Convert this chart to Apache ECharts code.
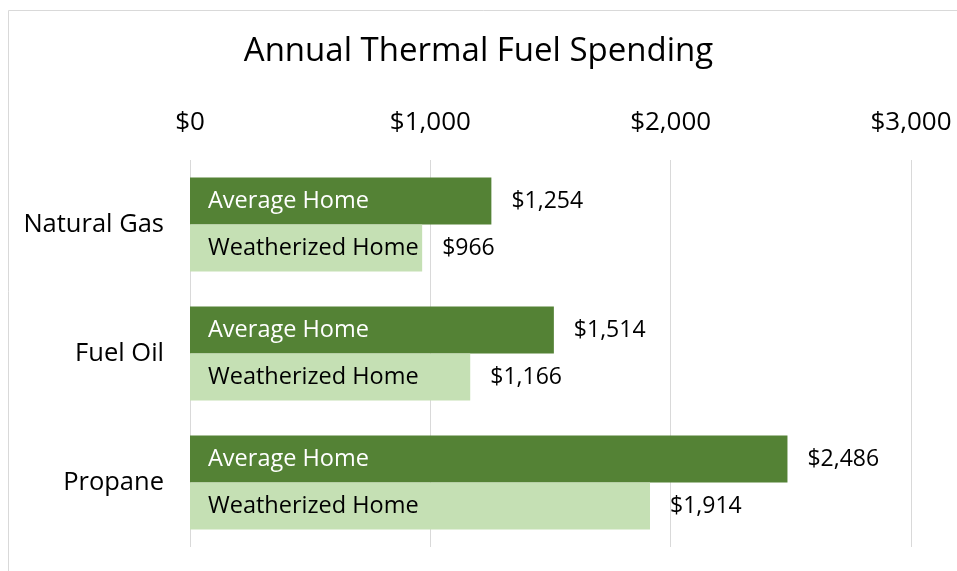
<!DOCTYPE html>
<html>
<head>
<meta charset="utf-8">
<script src="https://cdn.jsdelivr.net/npm/echarts@6/dist/echarts.min.js"></script>
<style>
  html, body { margin: 0; padding: 0; background: #fff; }
  #main { width: 957px; height: 571px; }
</style>
</head>
<body>
<div id="main"></div>
<script>
// data
var categories = ['Natural Gas', 'Fuel Oil', 'Propane']
var averageHome = [1254, 1514, 2486]
var weatherizedHome = [966, 1166, 1914]
var tickValues = [0, 1000, 2000, 3000]

var fontFamily = 'Open Sans'

function money(v) {
    return '$' + v.toLocaleString('en-US')
}

var chart = echarts.init(document.getElementById('main'))

// the name label sits inside the bar, the value label rides on a zero-length stacked bar
function mainSeries(name, data, color, textColor, stack) {
    return {
        name: name,
        type: 'bar',
        stack: stack,
        data: data,
        barWidth: 47,
        barGap: '0%',
        itemStyle: { color: color },
        label: {
            show: true,
            position: 'insideLeft',
            distance: 18,
            formatter: name,
            color: textColor,
            fontFamily: fontFamily,
            fontSize: 23.5
        },
        silent: true
    }
}

function valueSeries(data, stack) {
    return {
        type: 'bar',
        stack: stack,
        data: data.map(function () { return 0 }),
        barWidth: 47,
        barGap: '0%',
        itemStyle: { color: 'transparent' },
        label: {
            show: true,
            position: 'right',
            distance: 20,
            formatter: function (p) { return money(data[p.dataIndex]) },
            color: '#000',
            fontFamily: fontFamily,
            fontSize: 23
        },
        silent: true
    }
}

chart.setOption({
    animation: false,
    title: {
        text: 'Annual Thermal Fuel Spending',
        left: 'center',
        top: 30,
        textStyle: {
            fontFamily: fontFamily,
            fontWeight: 'normal',
            fontSize: 33,
            color: '#000'
        }
    },
    // chart border
    graphic: [{
        type: 'rect',
        shape: { x: 8.5, y: 10.5, width: 1000, height: 1000 },
        style: { fill: 'none', stroke: '#d9d9d9', lineWidth: 1 }
    }],
    grid: {
        left: 190,
        right: 46,
        top: 160,
        bottom: 24
    },
    xAxis: {
        type: 'value',
        position: 'top',
        min: tickValues[0],
        max: tickValues[tickValues.length - 1],
        interval: 1000,
        axisLine: { show: false },
        axisTick: { show: false },
        axisLabel: {
            formatter: function (v) { return money(v) },
            color: '#000',
            fontFamily: fontFamily,
            fontSize: 26,
            margin: 24
        },
        splitLine: { lineStyle: { color: '#d9d9d9', width: 1 } }
    },
    yAxis: {
        type: 'category',
        inverse: true,
        data: categories,
        axisLine: { show: false },
        axisTick: { show: false },
        axisLabel: {
            color: '#000',
            fontFamily: fontFamily,
            fontSize: 25.5,
            margin: 26
        }
    },
    series: [
        mainSeries('Average Home', averageHome, '#548235', '#fff', 'avg'),
        mainSeries('Weatherized Home', weatherizedHome, '#c5e0b4', '#000', 'wz'),
        valueSeries(averageHome, 'avg'),
        valueSeries(weatherizedHome, 'wz')
    ]
})
</script>
</body>
</html>
